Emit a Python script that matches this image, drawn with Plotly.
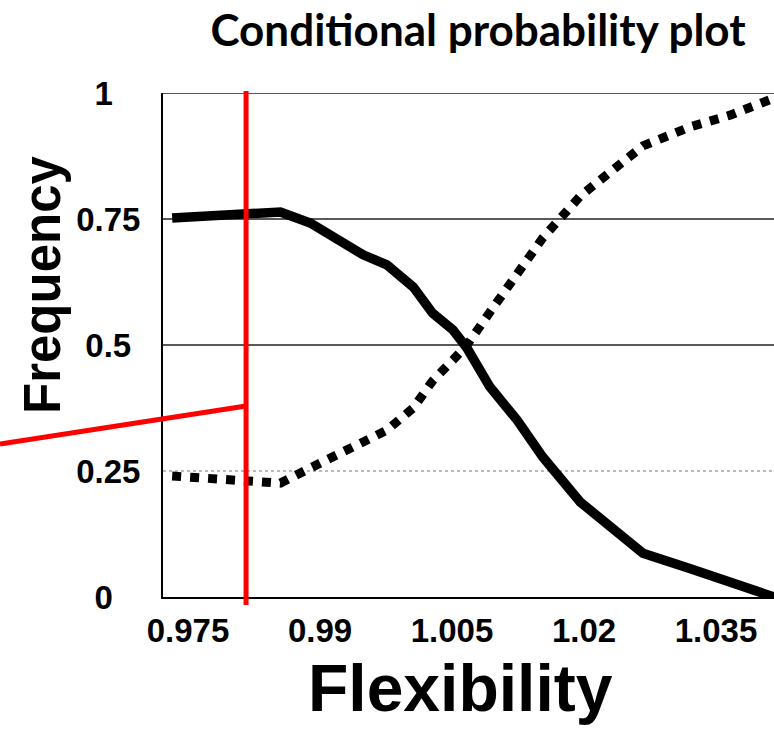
import plotly.graph_objects as go

# Conditional probability of the two outcomes versus flexibility
flexibility = [0.9732, 0.9815, 0.9855, 0.9889, 0.9923, 0.9949, 0.9976, 1.0006,
               1.0028, 1.0051, 1.0067, 1.0093, 1.0124, 1.0153, 1.0196, 1.0267,
               1.0321, 1.0366, 1.0416]
freq_solid = [0.752, 0.761, 0.764, 0.742, 0.708, 0.679, 0.659, 0.615, 0.563,
              0.530, 0.494, 0.417, 0.351, 0.278, 0.188, 0.087, 0.056, 0.030, 0.0]
freq_dotted = [0.240, 0.232, 0.226, 0.256, 0.284, 0.306, 0.331, 0.375, 0.429,
               0.470, 0.500, 0.565, 0.639, 0.712, 0.796, 0.895, 0.933, 0.956, 0.990]

x_tick_vals = [0.975, 0.99, 1.005, 1.02, 1.035]
x_tick_text = ["0.975", "0.99", "1.005", "1.02", "1.035"]
y_tick_vals = [0, 0.25, 0.5, 0.75, 1]
y_tick_text = ["0\u00a0\u00a0\u00a0", "0.25", "0.5\u00a0", "0.75", "1\u00a0\u00a0\u00a0"]

threshold = 0.9816          # marked flexibility cut-off
x_lo, x_hi = 0.97216, 1.04159

W, H = 774, 731
M_L, M_R, M_T, M_B = 163, 0, 93, 134
plot_w = W - M_L - M_R
plot_h = H - M_T - M_B

tick_font = dict(family="Liberation Sans, Arial, sans-serif", size=33, color="black", weight="bold")

fig = go.Figure()
fig.add_trace(go.Scatter(x=flexibility, y=freq_solid, mode="lines",
                         line=dict(color="black", width=9.5), showlegend=False))
fig.add_trace(go.Scatter(x=flexibility, y=freq_dotted, mode="lines",
                         line=dict(color="black", width=9, dash="dot"), showlegend=False))

shapes = []
# horizontal reference lines
for v in [0.5, 0.75, 1.0]:
    shapes.append(dict(type="line", xref="paper", yref="y", x0=0, x1=1, y0=v, y1=v,
                       line=dict(color="#222", width=1.6), layer="below"))
shapes.append(dict(type="line", xref="paper", yref="y", x0=0, x1=1, y0=0.25, y1=0.25,
                   line=dict(color="#777", width=1.2, dash="dot"), layer="below"))

# red cut-off marker and pointer
tx = (threshold - x_lo) / (x_hi - x_lo)
shapes.append(dict(type="line", xref="paper", yref="paper", x0=tx, x1=tx,
                   y0=-8 / plot_h, y1=1.004, line=dict(color="#ff0000", width=5)))
shapes.append(dict(type="line", xref="paper", yref="paper",
                   x0=-M_L / plot_w, y0=(597 - 444) / plot_h,
                   x1=tx, y1=(597 - 406) / plot_h,
                   line=dict(color="#ff0000", width=5)))

fig.update_layout(
    width=W, height=H, autosize=False,
    margin=dict(l=M_L, r=M_R, t=M_T, b=M_B, pad=0),
    paper_bgcolor="white", plot_bgcolor="white",
    shapes=shapes,
    title=dict(text="<b>Conditional probability plot</b>",
               font=dict(family="Lato, sans-serif", size=44, color="black"),
               x=478 / W, xanchor="center", xref="container",
               y=1 - 31 / H, yanchor="middle", yref="container"),
    xaxis=dict(range=[x_lo, x_hi], tickvals=x_tick_vals, ticktext=x_tick_text,
               showgrid=False, zeroline=False, showline=True, linecolor="black",
               linewidth=2, ticks="", tickfont=tick_font, ticklabelstandoff=3),
    yaxis=dict(range=[0, 1], tickvals=y_tick_vals, ticktext=y_tick_text,
               showgrid=False, zeroline=False, showline=True, linecolor="black",
               linewidth=2, ticks="", tickfont=tick_font, ticklabelstandoff=14),
    annotations=[
        dict(text="Frequency", textangle=-90, showarrow=False,
             xref="paper", yref="paper",
             x=(42 - M_L) / plot_w, y=(597 - 285) / plot_h,
             xanchor="center", yanchor="middle",
             font=dict(family="Liberation Sans, Arial, sans-serif",
                       size=51, color="black", weight="bold")),
        dict(text="Flexibility", showarrow=False,
             xref="paper", yref="paper",
             x=(460 - M_L) / plot_w, y=-(688 - 597) / plot_h,
             xanchor="center", yanchor="middle",
             font=dict(family="Liberation Sans, Arial, sans-serif",
                       size=66, color="black", weight="bold")),
    ],
)

fig.write_html("out.html")
